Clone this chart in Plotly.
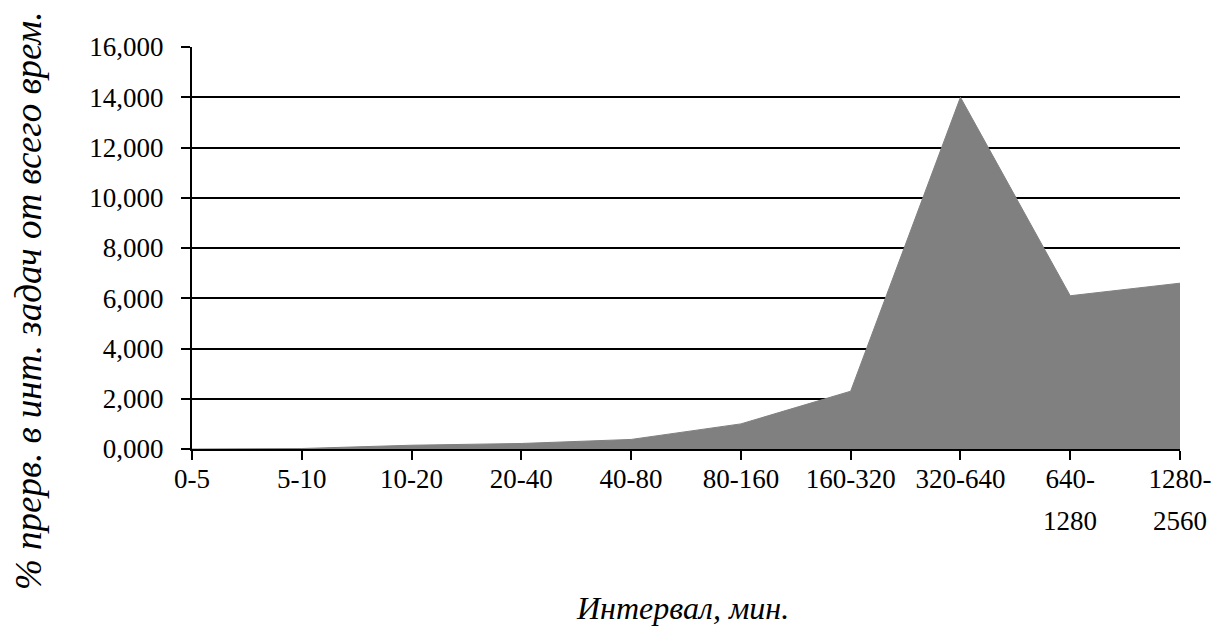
import plotly.graph_objects as go

# Interval bins (minutes) and share of interruptions, %
intervals = ["0-5", "5-10", "10-20", "20-40", "40-80", "80-160",
             "160-320", "320-640", "640-1280", "1280-2560"]
share = [0.0, 0.02, 0.15, 0.22, 0.38, 1.0, 2.3, 14.0, 6.1, 6.6]

# Tick labels: first line on the axis, second line (if any) below it
label_top = ["0-5", "5-10", "10-20", "20-40", "40-80", "80-160",
             "160-320", "320-640", "640-", "1280-"]
label_bottom = ["", "", "", "", "", "", "", "", "1280", "2560"]

y_ticks = [0, 2, 4, 6, 8, 10, 12, 14, 16]

FONT = "Liberation Serif"
FS = 27

fig = go.Figure()
fig.add_trace(go.Scatter(
    x=intervals, y=share,
    mode="lines",
    fill="tozeroy",
    fillcolor="#808080",
    line=dict(color="#808080", width=1),
    hoverinfo="x+y",
    showlegend=False,
))

annotations = []
for cat, txt in zip(intervals, label_bottom):
    if txt:
        annotations.append(dict(
            x=cat, xref="x", y=0, yref="paper",
            text=txt, showarrow=False,
            xanchor="center", yanchor="middle", yshift=-72,
            font=dict(family=FONT, size=FS, color="black"),
        ))

annotations.append(dict(
    x=0.496, xref="paper", y=-0.396, yref="paper",
    text="<i>Интервал, мин.</i>", showarrow=False,
    xanchor="center", yanchor="middle",
    font=dict(family=FONT, size=32, color="black"),
))
annotations.append(dict(
    x=-0.166, xref="paper", y=0.368, yref="paper",
    text="<i>% прерв. в инт. задач от всего врем.</i>", showarrow=False,
    textangle=-90, xanchor="center", yanchor="middle",
    font=dict(family=FONT, size=37, color="black"),
))

fig.update_layout(
    width=1217, height=628,
    margin=dict(l=192, r=37, t=47, b=179, autoexpand=False),
    paper_bgcolor="white", plot_bgcolor="white",
    separators=",.",
    font=dict(family=FONT, size=FS, color="black"),
    annotations=annotations,
    xaxis=dict(
        type="category",
        categoryorder="array", categoryarray=intervals,
        range=[0, len(intervals) - 1],
        tickvals=intervals, ticktext=label_top,
        ticks="outside", ticklen=9, tickcolor="black", tickwidth=1.5,
        showline=True, linecolor="black", linewidth=2,
        showgrid=False, zeroline=False, automargin=False,
        tickfont=dict(family=FONT, size=FS, color="black"),
        ticklabelstandoff=-4,
    ),
    yaxis=dict(
        range=[0, 16],
        tickvals=y_ticks, tickformat=".3f",
        ticks="outside", ticklen=9, tickcolor="black", tickwidth=1.5,
        showline=True, linecolor="black", linewidth=2,
        showgrid=True, gridcolor="black", gridwidth=1.5,
        zeroline=False, automargin=False,
        tickfont=dict(family=FONT, size=FS, color="black"),
        ticklabelstandoff=12,
    ),
)

fig.write_html("out.html")
